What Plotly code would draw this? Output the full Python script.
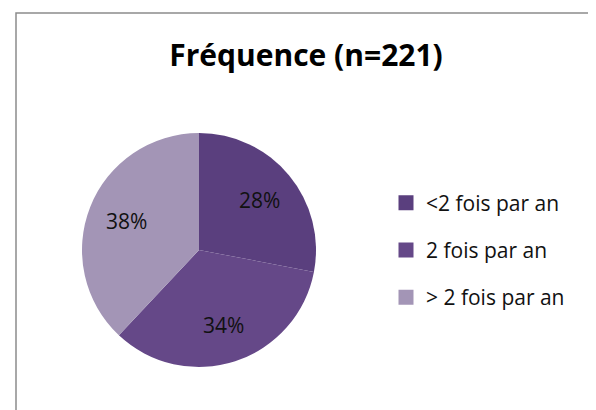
import math
import plotly.graph_objects as go

labels = ["<2 fois par an", "2 fois par an", "> 2 fois par an"]
values = [28, 34, 38]
colors = ["#5A3F7E", "#654888", "#A395B6"]

W, H = 596, 410
# pie placement in figure pixels (the page adds an 8px body margin)
cx, cy, r = 191, 242, 117

fig = go.Figure()

fig.add_trace(go.Pie(
    labels=labels,
    values=values,
    sort=False,
    direction="clockwise",
    rotation=0,
    marker=dict(colors=colors, line=dict(width=0)),
    textinfo="none",
    domain=dict(x=[(cx - r) / W, (cx + r) / W], y=[1 - (cy + r) / H, 1 - (cy - r) / H]),
    showlegend=False,
    hoverinfo="label+percent",
))

# percentage labels, placed along each slice's middle angle
total = sum(values)
cum = 0
annotations = []
for v in values:
    mid = (cum + v / 2) / total * 2 * math.pi
    cum += v
    px = cx + 0.67 * r * math.sin(mid)
    py = cy - 0.67 * r * math.cos(mid)
    annotations.append(dict(
        x=px / W, y=1 - py / H, xref="paper", yref="paper",
        xanchor="center", yanchor="middle",
        text=f"{v / total * 100:.0f}%", showarrow=False,
        font=dict(family="Open Sans", size=21, color="#111111"),
    ))

# legend entries, one group each so the rows can be spaced like the original
for name, col in zip(labels, colors):
    fig.add_trace(go.Scatter(
        x=[None], y=[None], mode="markers", name=name, legendgroup=name,
        marker=dict(symbol="square", size=15, color=col),
    ))

fig.update_layout(
    width=W, height=H,
    margin=dict(l=0, r=0, t=0, b=0),
    paper_bgcolor="white", plot_bgcolor="white",
    xaxis=dict(visible=False), yaxis=dict(visible=False),
    title=dict(
        text="<b>Fréquence (n=221)</b>",
        x=298 / W, xanchor="center",
        y=1 - 47 / H, yanchor="middle",
        font=dict(family="Open Sans", size=30, color="#000000"),
    ),
    legend=dict(
        x=378 / W, xanchor="left",
        y=1 - 242 / H, yanchor="middle",
        font=dict(family="Open Sans", size=21, color="#111111"),
        tracegroupgap=17,
        itemwidth=30,
        bgcolor="rgba(0,0,0,0)",
    ),
    annotations=annotations,
    shapes=[dict(
        type="rect", xref="paper", yref="paper",
        x0=8 / W, x1=1.05, y0=-0.05, y1=1 - 5 / H,
        line=dict(color="#8c8c8c", width=1.5), layer="below",
    )],
)

fig.write_html("out.html")
